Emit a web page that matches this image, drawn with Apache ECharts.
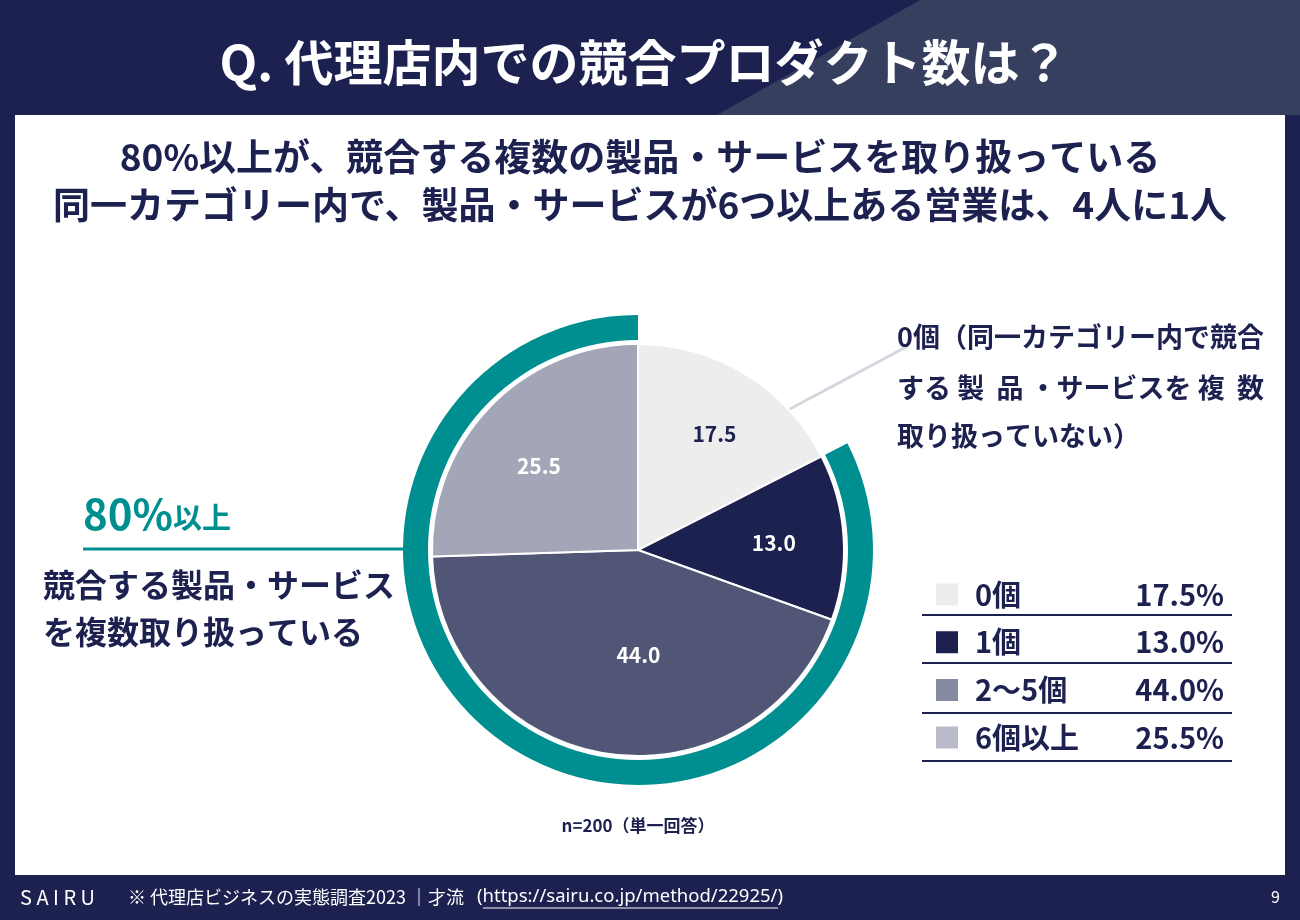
<!DOCTYPE html>
<html lang="ja">
<head>
  <meta charset="UTF-8">
  <title>競合プロダクト数</title>
  <style>
    html, body { margin: 0; padding: 0; background: #1c2150; }
    #chart { width: 1300px; height: 920px; }
  </style>
</head>
<body>
  <div id="chart"></div>
  <script src="https://cdn.jsdelivr.net/npm/echarts@6/dist/echarts.min.js"></script>
  <script>
    // データ
    var categories = ['0個', '1個', '2〜5個', '6個以上'];
    var values = [17.5, 13.0, 44.0, 25.5];
    var pieColors = ['#ededed', '#1c2150', '#525676', '#a3a6b7'];
    var legendColors = ['#ececec', '#1c2150', '#868aa0', '#b9bbc9'];
    var labelColors = ['#1c2150', '#fff', '#fff', '#fff'];
    var labelOffsets = [[21, -26], [30, 0], [17, 0], [-23, -10]];

    var NAVY = '#1c2150';
    var TEAL = '#008f91';
    var FONT = '"Noto Sans CJK JP", "Noto Sans", sans-serif';

    var chart = echarts.init(document.getElementById('chart'));

    // 80%以上 のリング = 0個 以外の合計
    var otherSum = values.slice(1).reduce(function (a, b) { return a + b; }, 0);

    var pieData = categories.map(function (name, i) {
      return {
        name: name,
        value: values[i],
        itemStyle: { color: pieColors[i] },
        label: { color: labelColors[i], offset: labelOffsets[i] }
      };
    });

    // 凡例の区切り線
    var rowLines = [615, 663, 713, 761].map(function (y) {
      return {
        type: 'line',
        shape: { x1: 922, y1: y, x2: 1232, y2: y },
        style: { stroke: NAVY, lineWidth: 2 }
      };
    });

    var option = {
      backgroundColor: NAVY,
      textStyle: { fontFamily: FONT },
      graphic: [
        {
          type: 'polygon',
          shape: { points: [[920, 0], [1300, 0], [1300, 115], [717, 115]] },
          style: { fill: '#363f5e' }
        },
        {
          type: 'rect',
          shape: { x: 15, y: 115, width: 1270, height: 760 },
          style: { fill: '#fff' }
        },
        {
          type: 'text', x: 644, y: 62,
          style: {
            text: 'Q. 代理店内での競合プロダクト数は？',
            fill: '#fff', font: 'bold 49px ' + FONT,
            textAlign: 'center', textVerticalAlign: 'middle'
          }
        },
        {
          type: 'text', x: 640, y: 157,
          style: {
            text: '80%以上が、競合する複数の製品・サービスを取り扱っている',
            fill: NAVY, font: 'bold 37px ' + FONT,
            textAlign: 'center', textVerticalAlign: 'middle'
          }
        },
        {
          type: 'text', x: 640, y: 205,
          style: {
            text: '同一カテゴリー内で、製品・サービスが6つ以上ある営業は、4人に1人',
            fill: NAVY, font: 'bold 37px ' + FONT,
            textAlign: 'center', textVerticalAlign: 'middle'
          }
        },
        // 左の注記
        {
          type: 'text', x: 83, y: 514,
          style: {
            text: '{a|80%}{b|以上}',
            textVerticalAlign: 'middle',
            rich: {
              a: { fontSize: 42, fontWeight: 'bold', fill: TEAL, fontFamily: FONT, verticalAlign: 'bottom' },
              b: { fontSize: 29, fontWeight: 'bold', fill: TEAL, fontFamily: FONT, verticalAlign: 'bottom', padding: [0, 0, 3, 0] }
            }
          }
        },
        {
          type: 'line',
          shape: { x1: 83, y1: 549, x2: 410, y2: 549 },
          style: { stroke: TEAL, lineWidth: 3 }
        },
        {
          type: 'text', x: 43, y: 585,
          style: {
            text: '競合する製品・サービス',
            fill: NAVY, font: 'bold 32px ' + FONT, textVerticalAlign: 'middle'
          }
        },
        {
          type: 'text', x: 43, y: 632,
          style: {
            text: 'を複数取り扱っている',
            fill: NAVY, font: 'bold 32px ' + FONT, textVerticalAlign: 'middle'
          }
        },
        // 右上の注記
        {
          type: 'line',
          shape: { x1: 788, y1: 410, x2: 908, y2: 346 },
          style: { stroke: '#d3d8e0', lineWidth: 3 }
        },
        {
          type: 'text', x: 897, y: 337,
          style: {
            text: '0個（同一カテゴリー内で競合',
            fill: NAVY, font: 'bold 27px ' + FONT, textVerticalAlign: 'middle'
          }
        },
        {
          type: 'text', x: 897, y: 388,
          style: {
            text: 'する 製  品 ・サービスを 複  数',
            fill: NAVY, font: 'bold 27px ' + FONT, textVerticalAlign: 'middle'
          }
        },
        {
          type: 'text', x: 897, y: 436,
          style: {
            text: '取り扱っていない）',
            fill: NAVY, font: 'bold 27px ' + FONT, textVerticalAlign: 'middle'
          }
        },
        {
          type: 'text', x: 638, y: 826,
          style: {
            text: 'n=200（単一回答）',
            fill: NAVY, font: 'bold 17px ' + FONT,
            textAlign: 'center', textVerticalAlign: 'middle'
          }
        },
        // フッター
        {
          type: 'text', x: 20, y: 897,
          style: {
            text: 'S A I R U',
            fill: '#fff', font: '20px ' + FONT, textVerticalAlign: 'middle'
          }
        },
        {
          type: 'text', x: 128, y: 897,
          style: {
            text: '※ 代理店ビジネスの実態調査2023 ｜才流',
            fill: '#fff', font: '18px ' + FONT, textVerticalAlign: 'middle'
          }
        },
        {
          type: 'text', x: 477, y: 897,
          style: {
            text: '(https://sairu.co.jp/method/22925/)',
            fill: '#fff', font: '18.5px "Noto Sans", sans-serif', textVerticalAlign: 'middle'
          }
        },
        {
          type: 'line',
          shape: { x1: 483, y1: 908, x2: 778, y2: 908 },
          style: { stroke: '#fff', lineWidth: 1 }
        },
        {
          type: 'text', x: 1280, y: 897,
          style: {
            text: '9',
            fill: '#fff', font: '16px ' + FONT,
            textAlign: 'right', textVerticalAlign: 'middle'
          }
        }
      ].concat(rowLines),
      legend: {
        orient: 'vertical',
        left: 929,
        top: 575,
        itemWidth: 24,
        itemHeight: 24,
        itemGap: 18.7,
        icon: 'rect',
        selectedMode: false,
        data: categories.map(function (name, i) {
          return { name: name, itemStyle: { color: legendColors[i] } };
        }),
        formatter: function (name) {
          var i = categories.indexOf(name);
          return '{n|' + name + '}{v|' + values[i].toFixed(1) + '%}';
        },
        textStyle: {
          rich: {
            n: { fontSize: 29, lineHeight: 30, fontWeight: 'bold', color: NAVY, fontFamily: FONT, width: 150, padding: [0, 0, 0, 11] },
            v: { fontSize: 29, lineHeight: 30, fontWeight: 'bold', color: NAVY, fontFamily: FONT, width: 99, align: 'right' }
          }
        }
      },
      series: [
        {
          type: 'pie',
          center: [638, 550],
          radius: [0, 206],
          startAngle: 90,
          clockwise: true,
          animation: false,
          itemStyle: { borderColor: '#fff', borderWidth: 2 },
          label: {
            show: true,
            position: 'inside',
            fontSize: 21,
            fontWeight: 'bold',
            fontFamily: FONT,
            formatter: function (p) { return p.value.toFixed(1); }
          },
          labelLine: { show: false },
          emphasis: { disabled: true },
          data: pieData
        },
        {
          // 80%以上 を示す外側のリング
          type: 'pie',
          center: [638, 550],
          radius: [210, 235],
          startAngle: 90,
          clockwise: true,
          animation: false,
          silent: true,
          label: { show: false },
          labelLine: { show: false },
          data: [
            { name: 'ring-none', value: values[0], itemStyle: { color: 'rgba(0,0,0,0)' } },
            { name: 'ring-80', value: otherSum, itemStyle: { color: TEAL } }
          ]
        }
      ]
    };

    chart.setOption(option);
  </script>
</body>
</html>
